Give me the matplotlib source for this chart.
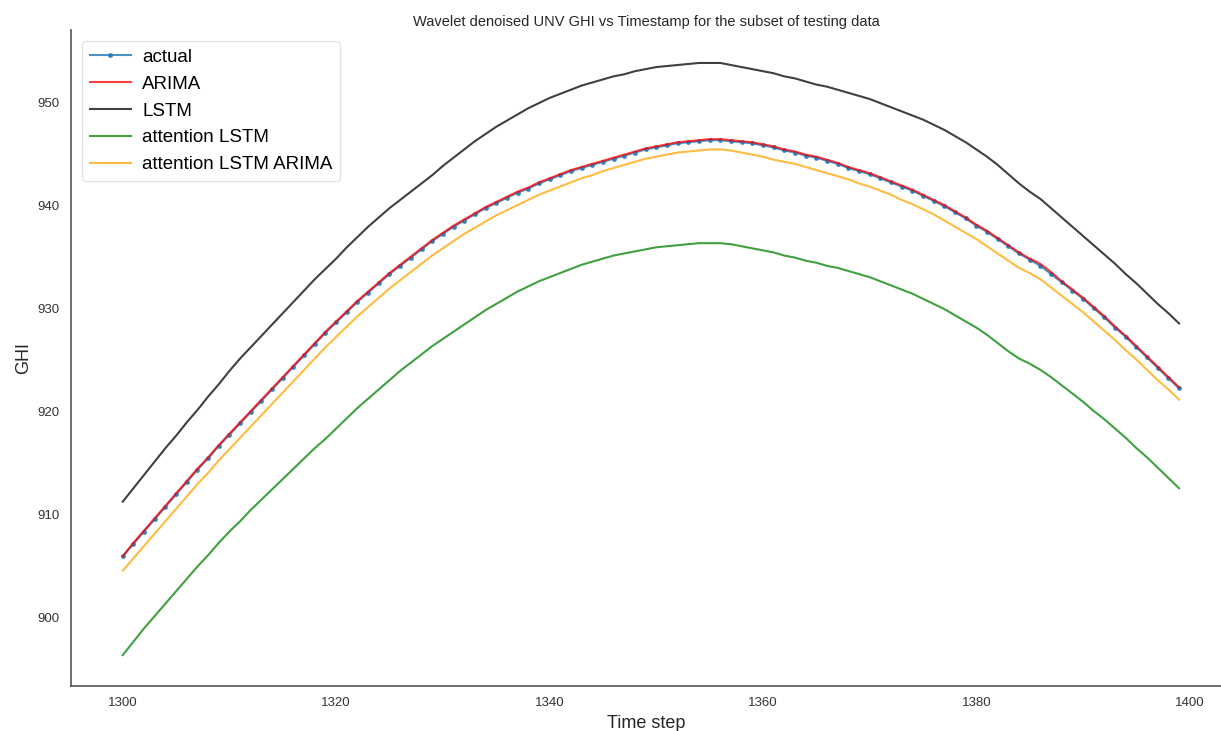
import numpy as np
import matplotlib
matplotlib.use('Agg')
import matplotlib.pyplot as plt

plt.rcParams['font.family'] = ['Liberation Sans', 'DejaVu Sans']

# 测试集子区间的时间步
time_steps = np.arange(1300, 1400)

actual = [
    905.9, 907.1, 908.3, 909.5, 910.7, 911.9, 913.1, 914.3, 915.4, 916.6,
    917.7, 918.8, 919.9, 921.0, 922.1, 923.2, 924.3, 925.4, 926.5, 927.6,
    928.6, 929.6, 930.6, 931.5, 932.4, 933.3, 934.1, 934.9, 935.7, 936.5,
    937.2, 937.9, 938.5, 939.1, 939.7, 940.2, 940.7, 941.2, 941.6, 942.1,
    942.5, 942.9, 943.3, 943.6, 943.9, 944.2, 944.5, 944.8, 945.1, 945.4,
    945.6, 945.8, 946.0, 946.1, 946.2, 946.3, 946.3, 946.2, 946.1, 946.0,
    945.8, 945.6, 945.3, 945.1, 944.8, 944.6, 944.3, 944.0, 943.6, 943.3,
    943.0, 942.6, 942.2, 941.8, 941.4, 940.9, 940.4, 939.9, 939.3, 938.7,
    938.0, 937.4, 936.7, 936.0, 935.3, 934.7, 934.1, 933.3, 932.5, 931.7,
    930.9, 930.0, 929.1, 928.1, 927.2, 926.2, 925.2, 924.2, 923.2, 922.2,
]

arima = [
    905.9, 907.2, 908.4, 909.6, 910.8, 912.0, 913.2, 914.4, 915.5, 916.7,
    917.8, 918.9, 920.0, 921.1, 922.2, 923.3, 924.4, 925.5, 926.6, 927.7,
    928.7, 929.7, 930.7, 931.6, 932.5, 933.4, 934.2, 935.0, 935.8, 936.6,
    937.3, 938.0, 938.6, 939.2, 939.8, 940.3, 940.8, 941.3, 941.7, 942.2,
    942.6, 943.0, 943.4, 943.7, 944.0, 944.3, 944.6, 944.9, 945.2, 945.5,
    945.7, 945.9, 946.1, 946.2, 946.3, 946.4, 946.4, 946.3, 946.2, 946.1,
    945.9, 945.7, 945.4, 945.2, 944.9, 944.7, 944.4, 944.1, 943.7, 943.4,
    943.1, 942.7, 942.3, 941.9, 941.5, 941.0, 940.5, 940.0, 939.4, 938.8,
    938.1, 937.5, 936.8, 936.1, 935.4, 934.8, 934.3, 933.5, 932.6, 931.8,
    931.0, 930.1, 929.2, 928.2, 927.3, 926.3, 925.3, 924.3, 923.3, 922.3,
]

lstm = [
    911.2, 912.5, 913.8, 915.1, 916.4, 917.6, 918.9, 920.1, 921.4, 922.6,
    923.9, 925.1, 926.2, 927.3, 928.4, 929.5, 930.6, 931.7, 932.8, 933.8,
    934.8, 935.9, 936.9, 937.9, 938.8, 939.7, 940.5, 941.3, 942.1, 942.9,
    943.8, 944.6, 945.4, 946.2, 946.9, 947.6, 948.2, 948.8, 949.4, 949.9,
    950.4, 950.8, 951.2, 951.6, 951.9, 952.2, 952.5, 952.7, 953.0, 953.2,
    953.4, 953.5, 953.6, 953.7, 953.8, 953.8, 953.8, 953.6, 953.4, 953.2,
    953.0, 952.8, 952.5, 952.3, 952.0, 951.7, 951.5, 951.2, 950.9, 950.6,
    950.3, 949.9, 949.5, 949.1, 948.7, 948.3, 947.8, 947.3, 946.7, 946.1,
    945.4, 944.7, 943.9, 943.0, 942.1, 941.3, 940.6, 939.7, 938.8, 937.9,
    937.0, 936.1, 935.2, 934.3, 933.3, 932.4, 931.4, 930.4, 929.5, 928.5,
]

att_lstm = [
    896.3, 897.6, 898.9, 900.1, 901.3, 902.5, 903.7, 904.9, 906.0, 907.2,
    908.3, 909.3, 910.4, 911.4, 912.4, 913.4, 914.4, 915.4, 916.4, 917.3,
    918.3, 919.3, 920.3, 921.2, 922.1, 923.0, 923.9, 924.7, 925.5, 926.3,
    927.0, 927.7, 928.4, 929.1, 929.8, 930.4, 931.0, 931.6, 932.1, 932.6,
    933.0, 933.4, 933.8, 934.2, 934.5, 934.8, 935.1, 935.3, 935.5, 935.7,
    935.9, 936.0, 936.1, 936.2, 936.3, 936.3, 936.3, 936.2, 936.0, 935.8,
    935.6, 935.4, 935.1, 934.9, 934.6, 934.4, 934.1, 933.9, 933.6, 933.3,
    933.0, 932.6, 932.2, 931.8, 931.4, 930.9, 930.4, 929.9, 929.3, 928.7,
    928.1, 927.4, 926.6, 925.8, 925.1, 924.6, 924.0, 923.3, 922.5, 921.7,
    920.9, 920.0, 919.2, 918.3, 917.4, 916.4, 915.5, 914.5, 913.5, 912.5,
]

att_lstm_arima = [
    904.5, 905.7, 906.9, 908.1, 909.3, 910.5, 911.7, 912.9, 914.0, 915.2,
    916.3, 917.4, 918.5, 919.6, 920.7, 921.8, 922.9, 924.0, 925.1, 926.2,
    927.2, 928.2, 929.2, 930.1, 931.0, 931.9, 932.7, 933.5, 934.3, 935.1,
    935.8, 936.5, 937.2, 937.8, 938.4, 939.0, 939.5, 940.0, 940.5, 941.0,
    941.4, 941.8, 942.2, 942.6, 942.9, 943.3, 943.6, 943.9, 944.2, 944.5,
    944.7, 944.9, 945.1, 945.2, 945.3, 945.4, 945.4, 945.3, 945.1, 944.9,
    944.7, 944.4, 944.2, 944.0, 943.7, 943.4, 943.1, 942.8, 942.5, 942.1,
    941.8, 941.4, 941.0, 940.5, 940.1, 939.6, 939.1, 938.5, 937.9, 937.3,
    936.7, 936.0, 935.3, 934.6, 933.9, 933.4, 932.8, 932.0, 931.2, 930.4,
    929.6, 928.7, 927.8, 926.9, 925.9, 925.0, 924.0, 923.0, 922.1, 921.1,
]

fig = plt.figure(figsize=(12.21, 7.31), dpi=100)
ax = fig.add_axes([71 / 1221, 45 / 731, 1150 / 1221, 656 / 731])

ax.plot(time_steps, actual, color='#1f77b4', marker='.', markersize=5,
        linewidth=1.5, alpha=0.8, label='actual')
ax.plot(time_steps, arima, color='red', linewidth=1.5, alpha=0.75, label='ARIMA')
ax.plot(time_steps, lstm, color='black', linewidth=1.5, alpha=0.75, label='LSTM')
ax.plot(time_steps, att_lstm, color='green', linewidth=1.5, alpha=0.75,
        label='attention LSTM')
ax.plot(time_steps, att_lstm_arima, color='orange', linewidth=1.5, alpha=0.75,
        label='attention LSTM ARIMA')

ax.set_xlim(1295.15, 1402.93)
ax.set_ylim(893.3, 957.0)
ax.set_xticks([1300, 1320, 1340, 1360, 1380, 1400])
ax.set_yticks([900, 910, 920, 930, 940, 950])

for side in ['top', 'right']:
    ax.spines[side].set_visible(False)
for side in ['left', 'bottom']:
    ax.spines[side].set_color('#555555')
    ax.spines[side].set_linewidth(1.2)
ax.tick_params(length=0, labelsize=9.5, colors='#333333', pad=8)

ax.set_title('Wavelet denoised UNV GHI vs Timestamp for the subset of testing data',
             fontsize=10.5, color='#262626', pad=3)
ax.set_xlabel('Time step', fontsize=13, color='#262626', labelpad=4)
ax.set_ylabel('GHI', fontsize=13, color='#262626', labelpad=4)

ax.legend(loc='upper left', fontsize=13.5, frameon=True, fancybox=True,
          edgecolor='#dddddd', borderaxespad=0.6, handlelength=2.2,
          handletextpad=0.6, labelspacing=0.52)

fig.savefig('out.png', dpi=100)
